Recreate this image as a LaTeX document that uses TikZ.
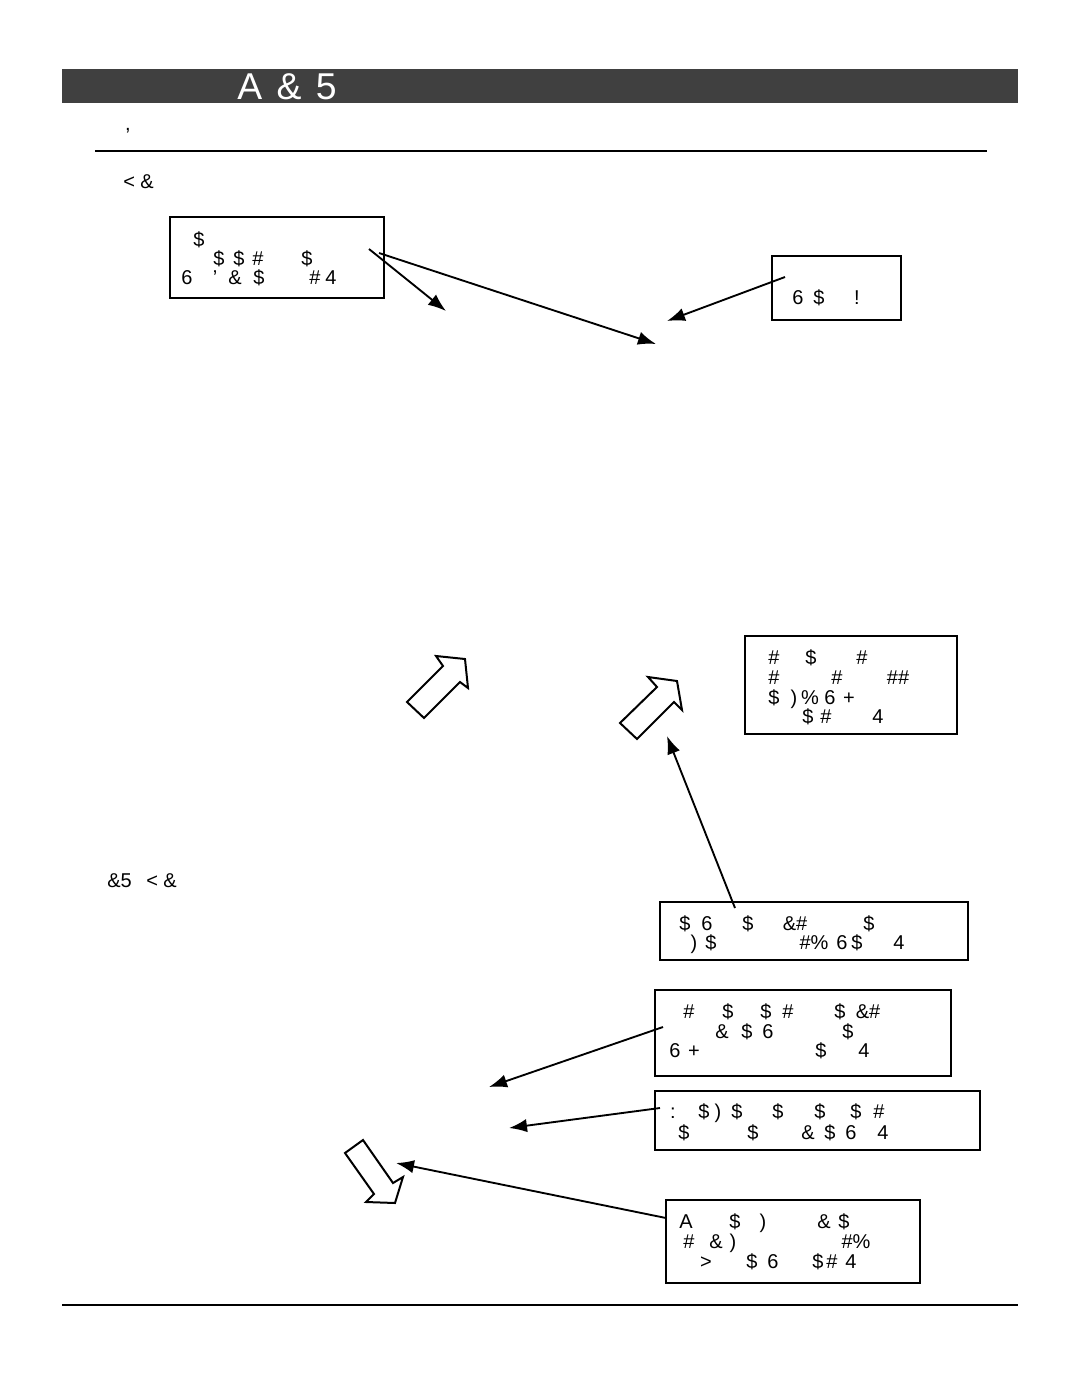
\documentclass[tikz,border=0pt]{standalone}
\usepackage{fontspec}
\setmainfont{Liberation Sans}
\usetikzlibrary{arrows.meta,fit}
\definecolor{headgray}{HTML}{404040}
\tikzset{
	notebox/.style={draw, line width=1.1pt, inner sep=0pt},
	glyph/.style={anchor=base, inner sep=0pt, font=\fontsize{15}{18}\selectfont},
	pointer/.style={-{Latex[length=13.5pt,width=10pt]}, line width=1.4pt},
	hollow/.style={draw, line width=1.5pt, line join=miter, fill=white}
}
\begin{document}
\begin{tikzpicture}[x=0.75pt, y=-0.75pt]
	\useasboundingbox (0,0) rectangle (1080,1397);
	\fill[headgray] (62,69) rectangle (1018,103);
	\node[glyph, anchor=base west, text=white, font=\fontsize{28}{32}\selectfont] (title) at (237,99) {A \hspace{3pt}\& \hspace{3pt}5};
	\node[glyph] (mark) at (128,130) {,};
	\draw[line width=1.5pt] (95,151) -- (987,151);
	\draw[line width=1.5pt] (62,1305) -- (1018,1305);
	\node[glyph, anchor=base west] (head1) at (123,188) {< \&};
	\node[glyph, anchor=base west] (head2a) at (107,887) {\&5};
	\node[glyph, anchor=base west] (head2b) at (146,887) {< \&};

	\node[notebox, fit={(170,217) (384,298)}] (note1) {};
	\foreach \x/\t [count=\i] in {199/\$}
		\node[glyph] (n1a-\i) at (\x,246) {\t};
	\foreach \x/\t [count=\i] in {219/\$, 239/\$, 258/\#, 307/\$}
		\node[glyph] (n1b-\i) at (\x,265) {\t};
	\foreach \x/\t [count=\i] in {187/6, 215/’, 235/\&, 259/\$, 315/\#, 331/4}
		\node[glyph] (n1c-\i) at (\x,284) {\t};

	\node[notebox, fit={(772,256) (901,320)}] (note2) {};
	\foreach \x/\t [count=\i] in {798/6, 819/\$, 857/!}
		\node[glyph] (n2a-\i) at (\x,304) {\t};

	\node[notebox, fit={(745,636) (957,734)}] (note3) {};
	\foreach \x/\t [count=\i] in {774/\#, 811/\$, 862/\#}
		\node[glyph] (n3a-\i) at (\x,664) {\t};
	\foreach \x/\t [count=\i] in {774/\#, 837/\#, 898/\#\#}
		\node[glyph] (n3b-\i) at (\x,684) {\t};
	\foreach \x/\t [count=\i] in {774/\$, 794/), 810/\%, 830/6, 849/+}
		\node[glyph] (n3c-\i) at (\x,704) {\t};
	\foreach \x/\t [count=\i] in {808/\$, 826/\#, 878/4}
		\node[glyph] (n3d-\i) at (\x,723) {\t};

	\node[notebox, fit={(660,902) (968,960)}] (note4) {};
	\foreach \x/\t [count=\i] in {685/\$, 707/6, 748/\$, 795/\&\#, 869/\$}
		\node[glyph] (n4a-\i) at (\x,930) {\t};
	\foreach \x/\t [count=\i] in {694/), 711/\$, 814/\#\%, 842/6, 857/\$, 899/4}
		\node[glyph] (n4b-\i) at (\x,949) {\t};

	\node[notebox, fit={(655,990) (951,1076)}] (note5) {};
	\foreach \x/\t [count=\i] in {689/\#, 728/\$, 766/\$, 788/\#, 840/\$, 868/\&\#}
		\node[glyph] (n5a-\i) at (\x,1018) {\t};
	\foreach \x/\t [count=\i] in {722/\&, 747/\$, 768/6, 848/\$}
		\node[glyph] (n5b-\i) at (\x,1038) {\t};
	\foreach \x/\t [count=\i] in {675/6, 694/+, 821/\$, 864/4}
		\node[glyph] (n5c-\i) at (\x,1057) {\t};

	\node[notebox, fit={(655,1091) (980,1150)}] (note6) {};
	\foreach \x/\t [count=\i] in {673/:, 704/\$, 718/), 737/\$, 778/\$, 820/\$, 856/\$, 879/\#}
		\node[glyph] (n6a-\i) at (\x,1118) {\t};
	\foreach \x/\t [count=\i] in {684/\$, 753/\$, 808/\&, 830/\$, 851/6, 883/4}
		\node[glyph] (n6b-\i) at (\x,1139) {\t};

	\node[notebox, fit={(666,1200) (920,1283)}] (note7) {};
	\foreach \x/\t [count=\i] in {686/A, 735/\$, 763/), 824/\&, 844/\$}
		\node[glyph] (n7a-\i) at (\x,1228) {\t};
	\foreach \x/\t [count=\i] in {689/\#, 716/\&, 733/), 856/\#\%}
		\node[glyph] (n7b-\i) at (\x,1248) {\t};
	\foreach \x/\t [count=\i] in {706/>, 752/\$, 773/6, 818/\$, 832/\#, 851/4}
		\node[glyph] (n7c-\i) at (\x,1268) {\t};

	\draw[hollow] (407,702) -- (443,666) -- (436,656) -- (465,659) -- (468,688) -- (460,682) -- (424,718) -- cycle;
	\draw[hollow] (620,723) -- (657,687) -- (648,677) -- (677,681) -- (682,710) -- (674,702) -- (637,739) -- cycle;
	\draw[hollow] (345,1153) -- (363,1140) -- (393,1183) -- (403,1177) -- (395,1203) -- (366,1202) -- (374,1194) -- cycle;

	\coordinate (s1) at (369,249);
	\coordinate (s2) at (379,253);
	\coordinate (s3) at (785,277);
	\coordinate (s4) at (735,908);
	\coordinate (s5) at (663,1027);
	\coordinate (s6) at (660,1108);
	\coordinate (s7) at (666,1218);
	\coordinate (t1) at (446,311);
	\coordinate (t2) at (656,344);
	\coordinate (t3) at (667,321);
	\coordinate (t4) at (667,736);
	\coordinate (t5) at (489,1087);
	\coordinate (t6) at (509,1128);
	\coordinate (t7) at (396,1163);
	\path[pointer]
	(s1) edge (t1)
	(s2) edge (t2)
	(s3) edge (t3)
	(s4) edge (t4)
	(s5) edge (t5)
	(s6) edge (t6)
	(s7) edge (t7);
\end{tikzpicture}
\end{document}
